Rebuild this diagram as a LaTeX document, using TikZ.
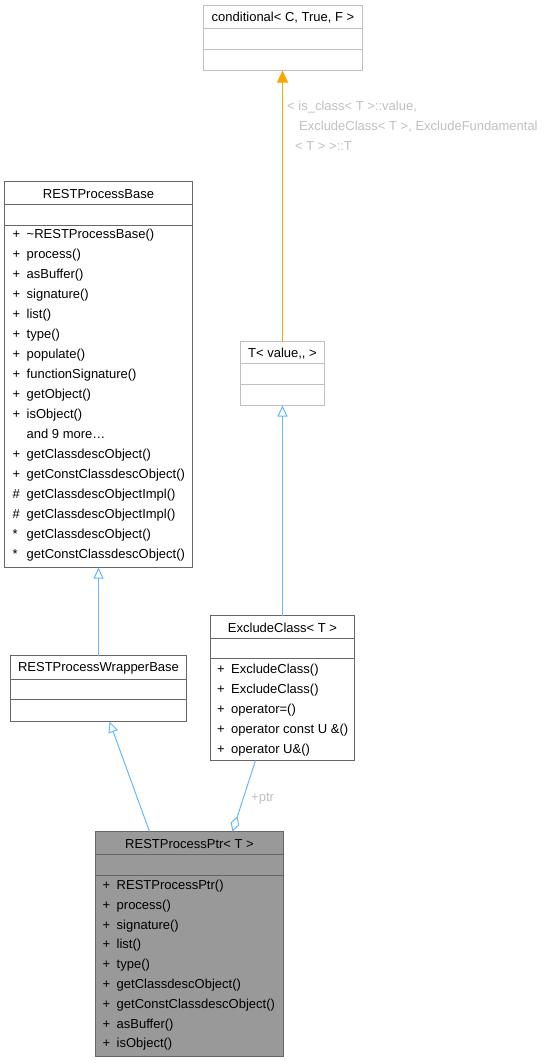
\documentclass[tikz,border=0pt]{standalone}
\usepackage{fontspec}
\setmainfont{Liberation Sans}
\usetikzlibrary{arrows.meta}
\definecolor{darkedge}{HTML}{666666}
\definecolor{lightedge}{HTML}{BFBFBF}
\definecolor{ptrfill}{HTML}{999999}
\definecolor{inhblue}{HTML}{63B8FF}
\definecolor{tmplorange}{HTML}{FFA500}
\definecolor{labelgrey}{HTML}{C0C0C0}
\begin{document}
\begin{tikzpicture}[x=1pt,y=-1pt,
  txt/.style={font=\fontsize{13}{15}\selectfont, inner sep=0pt, anchor=base west},
  ttl/.style={font=\fontsize{13}{15}\selectfont, inner sep=0pt, anchor=base},
  elabel/.style={font=\fontsize{13}{15}\selectfont, inner sep=0pt, anchor=base west, text=labelgrey},
  cls/.style={draw=darkedge, line width=1pt, fill=white, inner sep=0pt, outer sep=0pt, anchor=north west},
  clsl/.style={cls, draw=lightedge},
  divd/.style={draw=darkedge, line width=1pt},
  divl/.style={draw=lightedge, line width=1pt},
  inh/.style={draw=inhblue, line width=1pt},
  openarr/.style={{Triangle[open,length=11pt,width=10pt]}-},
  tmpl/.style={draw=tmplorange, line width=1pt, -{Triangle[length=12pt,width=11pt]}, tmplorange},
  agg/.style={draw=inhblue, line width=1pt, -{Diamond[open,length=16pt,width=9pt]}}
]
\useasboundingbox (0,0) rectangle (549,1063);

% ---------- conditional< C, True, F >
\node[clsl, minimum width=159pt, minimum height=65pt] (cond) at (203.5,5.5) {};
\draw[divl] ([yshift=-23pt]cond.north west) -- ([yshift=-23pt]cond.north east);
\draw[divl] ([yshift=-44pt]cond.north west) -- ([yshift=-44pt]cond.north east);
\node[ttl] (condt) at (283,21.5) {conditional< C, True, F >};

% ---------- T< value,, >
\node[clsl, minimum width=84pt, minimum height=64pt] (tbox) at (240.5,341.5) {};
\draw[divl] ([yshift=-22pt]tbox.north west) -- ([yshift=-22pt]tbox.north east);
\draw[divl] ([yshift=-43pt]tbox.north west) -- ([yshift=-43pt]tbox.north east);
\node[ttl] (tboxt) at (282.5,357.5) {T< value,{},{} >};

% ---------- RESTProcessBase
\node[cls, minimum width=188pt, minimum height=386pt] (base) at (4.5,181.5) {};
\draw[divd] ([yshift=-23pt]base.north west) -- ([yshift=-23pt]base.north east);
\draw[divd] ([yshift=-44pt]base.north west) -- ([yshift=-44pt]base.north east);
\node[ttl] (baset) at (98.5,198.5) {RESTProcessBase};
\foreach \s/\t [count=\i] in {
  +/{\textasciitilde RESTProcessBase()},
  +/{process()},
  +/{asBuffer()},
  +/{signature()},
  +/{list()},
  +/{type()},
  +/{populate()},
  +/{functionSignature()},
  +/{getObject()},
  +/{isObject()},
  {}/{and 9 more\ldots},
  +/{getClassdescObject()},
  +/{getConstClassdescObject()},
  \#/{getClassdescObjectImpl()},
  \#/{getClassdescObjectImpl()},
  */{getClassdescObject()},
  */{getConstClassdescObject()}}
{
  \node[txt] (bs\i) at (12.5,218+20*\i) {\s};
  \node[txt] (bm\i) at (26.5,218+20*\i) {\t};
}

% ---------- RESTProcessWrapperBase
\node[cls, minimum width=176pt, minimum height=66pt] (wrap) at (10.5,655.5) {};
\draw[divd] ([yshift=-24pt]wrap.north west) -- ([yshift=-24pt]wrap.north east);
\draw[divd] ([yshift=-44pt]wrap.north west) -- ([yshift=-44pt]wrap.north east);
\node[ttl] (wrapt) at (98.5,671.5) {RESTProcessWrapperBase};

% ---------- ExcludeClass< T >
\node[cls, minimum width=144pt, minimum height=145pt] (excl) at (210.5,615.5) {};
\draw[divd] ([yshift=-23pt]excl.north west) -- ([yshift=-23pt]excl.north east);
\draw[divd] ([yshift=-43pt]excl.north west) -- ([yshift=-43pt]excl.north east);
\node[ttl] (exclt) at (282.5,632.5) {ExcludeClass< T >};
\foreach \t [count=\i] in {
  {ExcludeClass()},
  {ExcludeClass()},
  {operator=()},
  {operator const U \&()},
  {operator U\&()}}
{
  \node[txt] (es\i) at (217,653+20*\i) {+};
  \node[txt] (em\i) at (231,653+20*\i) {\t};
}

% ---------- RESTProcessPtr< T >
\node[cls, fill=ptrfill, minimum width=188pt, minimum height=225pt] (ptr) at (95.5,831.5) {};
\draw[divd] ([yshift=-23pt]ptr.north west) -- ([yshift=-23pt]ptr.north east);
\draw[divd] ([yshift=-44pt]ptr.north west) -- ([yshift=-44pt]ptr.north east);
\node[ttl] (ptrt) at (189.5,848.5) {RESTProcessPtr< T >};
\foreach \t [count=\i] in {
  {RESTProcessPtr()},
  {process()},
  {signature()},
  {list()},
  {type()},
  {getClassdescObject()},
  {getConstClassdescObject()},
  {asBuffer()},
  {isObject()}}
{
  \node[txt] (ps\i) at (102.5,869.7+19.8*\i) {+};
  \node[txt] (pm\i) at (116.5,869.7+19.8*\i) {\t};
}

% ---------- connectors
\draw[tmpl] (tbox.north) -- (tbox.north |- cond.south);
\node[elabel] (l1) at (287,110.5) {< is\_class< T >::value,};
\node[elabel] (l2) at (299,130.5) {ExcludeClass< T >, ExcludeFundamental};
\node[elabel] (l3) at (295,150.5) {< T > >::T};

\draw[inh, openarr] (tbox.south) -- (tbox.south |- excl.north);
\draw[inh, openarr] (base.south) -- (base.south |- wrap.north);
\draw[inh, openarr] ([xshift=11pt]wrap.south) -- ([xshift=54pt]ptr.north west);
\draw[agg] ([xshift=-27pt]excl.south) -- ([xshift=137pt]ptr.north west);
\node[elabel] (lptr) at (251,801.5) {+ptr};
\end{tikzpicture}
\end{document}
